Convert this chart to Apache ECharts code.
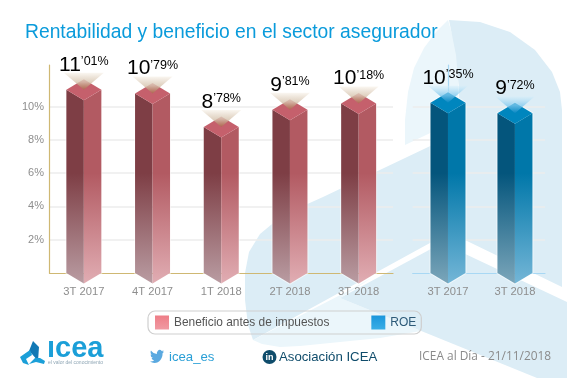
<!DOCTYPE html>
<html>
<head>
<meta charset="utf-8">
<style>html,body{margin:0;padding:0;background:#fff}#c{width:567px;height:378px}</style>
<script src="https://cdn.jsdelivr.net/npm/echarts@6/dist/echarts.min.js"></script>
</head>
<body>
<div id="c"></div>
<script>
const titleText = 'Rentabilidad y beneficio en el sector asegurador';
const categoriesBenefit = ['3T 2017', '4T 2017', '1T 2018', '2T 2018', '3T 2018'];
const valuesBenefit = [11.01, 10.79, 8.78, 9.81, 10.18];
const categoriesRoe = ['3T 2017', '3T 2018'];
const valuesRoe = [10.35, 9.72];
const yTicks = [2, 4, 6, 8, 10];
const seriesNames = ['Beneficio antes de impuestos', 'ROE'];

const FONT = '"Liberation Sans", Arial, sans-serif';
const HALF = 17.5, DEPTH = 10.5;

const paletteRed = {
  top: '#c5606c', lt: '#7e3e45', lb: '#b99ca2', rt: '#b25a62', rb: '#e1adb3',
  glowA: 'rgba(250,246,240,0.9)', glowM: 'rgba(215,197,176,0.8)', glowB: 'rgba(165,110,70,0.66)'
};
const paletteBlue = {
  top: '#0086be', lt: '#04557c', lb: '#7ba6ba', rt: '#0077a9', rb: '#74b6d7',
  glowA: 'rgba(215,238,250,0.5)', glowM: 'rgba(125,200,238,0.75)', glowB: 'rgba(10,135,195,0.75)'
};

function makeRender(pal, shift) {
  return function (params, api) {
    const xv = api.value(0), val = api.value(1);
    const pt = api.coord([xv, val]);
    const base = api.coord([xv, 0]);
    const c = pt[0], v = pt[1] + shift, b = base[1];
    const fadeTop = api.coord([xv, 6])[1];
    const grad = (a, d) => ({ type: 'linear', global: true, x: 0, y: fadeTop, x2: 0, y2: b + DEPTH,
      colorStops: [{ offset: 0, color: a }, { offset: 1, color: d }] });
    const parts = val.toFixed(2).split('.');
    const poly = (points, fill) => ({ type: 'polygon', shape: { points }, style: { fill } });
    return { type: 'group', children: [
      { type: 'polygon', shape: { points: [[c - HALF, v], [c, v - DEPTH], [c + HALF, v], [c + HALF, b], [c, b + DEPTH], [c - HALF, b]] },
        style: { fill: 'none', stroke: 'rgba(255,255,255,0.55)', lineWidth: 2 } },
      poly([[c - HALF, v], [c, v + DEPTH], [c, b + DEPTH], [c - HALF, b]], grad(pal.lt, pal.lb)),
      poly([[c + HALF, v], [c, v + DEPTH], [c, b + DEPTH], [c + HALF, b]], grad(pal.rt, pal.rb)),
      poly([[c - HALF, v], [c, v - DEPTH], [c + HALF, v], [c, v + DEPTH]], pal.top),
      { type: 'polygon', shape: { points: [[c - 20, v - 17], [c + 20, v - 17], [c, v]] },
        style: { fill: { type: 'linear', x: 0, y: 0, x2: 0, y2: 1,
          colorStops: [{ offset: 0, color: pal.glowA }, { offset: 0.55, color: pal.glowM }, { offset: 1, color: pal.glowB }] } } },
      { type: 'text', style: {
          x: c, y: v - 14.5, align: 'center', verticalAlign: 'bottom',
          text: '{a|' + parts[0] + '}{b|’' + parts[1] + '%}',
          rich: {
            a: { fontFamily: FONT, fontSize: 21, lineHeight: 24, fill: '#000', verticalAlign: 'bottom' },
            b: { fontFamily: FONT, fontSize: 12.5, lineHeight: 24, fill: '#000', verticalAlign: 'top', padding: [4, 0, 0, 0] }
          } } }
    ] };
  };
}

const axisLabelStyle = { color: '#8e8e8e', fontFamily: FONT, fontSize: 11.2 };
const blobDark = '#dcedf6', blobLight = '#ebf6fb';
const tan = '#cfb873', skyLine = '#a8d8f4';
const bird = 'M23.953 4.57a10 10 0 0 1-2.825.775 4.958 4.958 0 0 0 2.163-2.723c-.951.555-2.005.959-3.127 1.184a4.92 4.92 0 0 0-8.384 4.482C7.69 8.095 4.067 6.13 1.64 3.162a4.822 4.822 0 0 0-.666 2.475c0 1.71.87 3.213 2.188 4.096a4.904 4.904 0 0 1-2.228-.616v.06a4.923 4.923 0 0 0 3.946 4.827 4.996 4.996 0 0 1-2.212.085 4.936 4.936 0 0 0 4.604 3.417 9.867 9.867 0 0 1-6.102 2.105c-.39 0-.779-.023-1.17-.067a13.995 13.995 0 0 0 7.557 2.209c9.053 0 13.998-7.496 13.998-13.985 0-.21 0-.42-.015-.63A9.935 9.935 0 0 0 24 4.59z';

function txt(x, y, text, font, fill, extra) {
  return { type: 'text', z: 5, silent: true, x, y, style: Object.assign({ text, font, fill, verticalAlign: 'middle' }, extra || {}) };
}

// decorative watermark behind the plot, as plain shapes in page space
const watermark = [
  ['polygon', [[448,20],[436,32],[424,48],[414,68],[408,92],[405,120],[405,145],[445,126],[458,120],[458,55]], blobLight],
  ['polygon', [[449,20],[480,22],[510,32],[535,50],[552,72],[560,92],[562,110],[562,287],[467,241],[450,232],[253,340],[248,325],[245,300],[245,273],[249,252],[260,234],[283,215],[323,197],[445,139],[458,125],[459,90],[456,55]], blobDark],
  ['polygon', [[253,340],[262,344],[280,347],[300,346],[380,338],[421,331],[340,298],[373,277],[350,290]], blobLight],
  ['polygon', [[442,243],[567,302],[567,378],[537,378],[340,298]], blobDark]
];

const graphicEls = [
  // logo
  { type: 'polygon', z: 5, silent: true, shape: { points: [[33, 341], [39, 347], [38, 361], [32, 354], [29, 351]] }, style: { fill: '#1279b5' } },
  { type: 'polygon', z: 5, silent: true, shape: { points: [[20, 357], [30, 350], [32, 355], [26, 359], [29, 365], [23, 363]] }, style: { fill: '#1b9fd8' } },
  { type: 'polygon', z: 5, silent: true, shape: { points: [[29, 364], [35, 358], [40, 358], [45, 361], [44, 364], [36, 362]] }, style: { fill: '#1b9fd8' } },
  txt(47, 349, 'ıcea', 'bold 29px ' + FONT, '#1b9fd8'),
  txt(48, 363, 'el valor del conocimiento', '5px ' + FONT, '#8fa6b5'),
  // social footer
  txt(169, 357, 'icea_es', '13.2px ' + FONT, '#2a9fd6'),
  { type: 'circle', z: 5, silent: true, shape: { cx: 269.5, cy: 357, r: 7 }, style: { fill: '#0f4c6b' } },
  txt(269.5, 357.5, 'in', 'bold 9px ' + FONT, '#fff', { align: 'center' }),
  txt(279, 357, 'Asociación ICEA', '13.2px ' + FONT, '#0f4c6b'),
  txt(419, 357, 'ICEA al Día - 21/11/2018', '11.9px "Open Sans", ' + FONT, '#8a8a8a')
];

const chart = echarts.init(document.getElementById('c'), null, { renderer: 'canvas' });
chart.setOption({
  animation: false,
  backgroundColor: '#fff',
  title: { text: titleText, left: 25, top: 23, padding: 0,
    textStyle: { color: '#0a9bdb', fontFamily: FONT, fontWeight: 'normal', fontSize: 19.3 } },
  legend: {
    left: 148, top: 311, padding: [4.5, 5, 4.5, 7], itemGap: 42, itemWidth: 14, itemHeight: 14,
    borderColor: '#cfcfcf', borderWidth: 1.2, borderRadius: 7, icon: 'rect', selectedMode: false,
    data: [
      { name: seriesNames[0], textStyle: { color: '#555', fontFamily: FONT, fontSize: 11.9 },
        itemStyle: { color: { type: 'linear', x: 0, y: 0, x2: 0, y2: 1, colorStops: [{ offset: 0, color: '#ee7d87' }, { offset: 1, color: '#f09aa2' }] } } },
      { name: seriesNames[1], textStyle: { color: '#2d5a78', fontFamily: FONT, fontSize: 12 },
        itemStyle: { color: { type: 'linear', x: 0, y: 0, x2: 0, y2: 1, colorStops: [{ offset: 0, color: '#1a96dc' }, { offset: 1, color: '#3aaee6' }] } } }
    ]
  },
  grid: [
    { left: 49.5, top: 65, width: 343.5, height: 208 },
    { left: 412.7, top: 65, width: 132.3, height: 208 }
  ],
  xAxis: [
    { type: 'category', gridIndex: 0, data: categoriesBenefit,
      axisLine: { lineStyle: { color: tan, width: 1.2 } }, axisTick: { show: false },
      axisLabel: Object.assign({ margin: 13, interval: 0 }, axisLabelStyle) },
    { type: 'value', gridIndex: 1, min: -0.527, max: 1.449, splitLine: { show: false },
      axisLine: { onZero: false, lineStyle: { color: skyLine, width: 1.2 } }, axisTick: { show: false },
      axisLabel: Object.assign({ margin: 13, customValues: [0, 1], formatter: v => categoriesRoe[Math.round(v)] }, axisLabelStyle) }
  ],
  yAxis: [0, 1].map(i => ({
    type: 'value', gridIndex: i, min: 0, max: 12.5,
    axisLine: { show: true, lineStyle: { color: i ? skyLine : tan, width: 1.2 } },
    axisTick: { show: false, customValues: yTicks },
    splitLine: { show: true, lineStyle: { color: '#ececec', width: 1.5 } },
    axisLabel: i ? { show: false } : Object.assign({ margin: 5.5, customValues: yTicks, formatter: v => v + '%' }, axisLabelStyle, { fontSize: 11 })
  })),
  series: [
    { type: 'custom', name: 'watermark', coordinateSystem: 'none', z: -10, silent: true, data: [0], clip: false,
      renderItem: () => ({ type: 'group', children: watermark.map(w => ({ type: 'polygon', shape: { points: w[1] }, style: { fill: w[2] } })).concat([
        { type: 'path', shape: { pathData: bird, x: 150, y: 350, width: 14, height: 13, layout: 'cover' }, style: { fill: '#5aa9e0' } }
      ]) }) },
    { type: 'custom', name: seriesNames[0], xAxisIndex: 0, yAxisIndex: 0, z: 3, clip: false,
      data: valuesBenefit.map((v, i) => [i, v]), encode: { x: 0, y: 1 }, renderItem: makeRender(paletteRed, 0) },
    { type: 'custom', name: seriesNames[1], xAxisIndex: 1, yAxisIndex: 1, z: 3, clip: false,
      data: valuesRoe.map((v, i) => [i, v]), encode: { x: 0, y: 1 }, renderItem: makeRender(paletteBlue, 2) }
  ],
  graphic: { elements: graphicEls }
});
</script>
</body>
</html>
